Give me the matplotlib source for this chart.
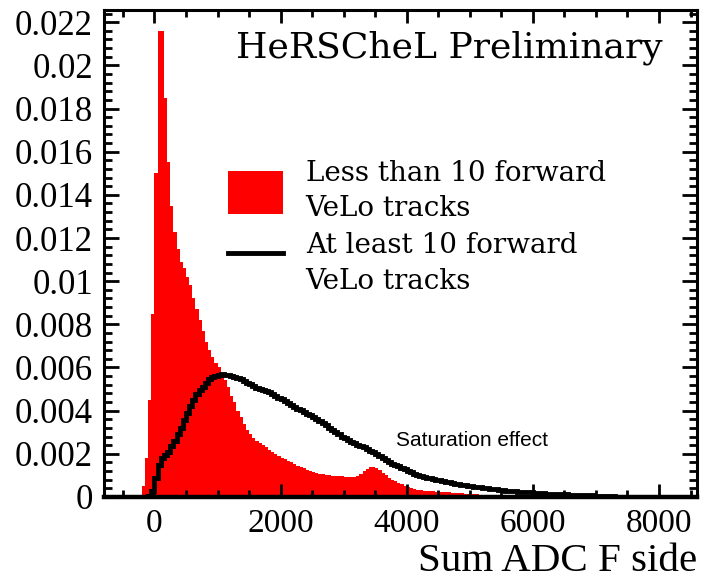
import matplotlib
matplotlib.use('Agg')
import matplotlib.pyplot as plt
from matplotlib.ticker import MultipleLocator, FuncFormatter
import numpy as np

# 50 ADC bins from -500 to 7500; normalised entries in units of 1e-3
edges = np.arange(-500, 7501, 50)

few_tracks = np.array([
    0, 0, 0, 0, 0, 0.1, 0.5, 1.8, 4.5, 8.5,                       # -500
    15.0, 21.6, 21.6, 18.5, 15.5, 13.5, 12.3, 11.5, 10.9, 10.6,   # 0
    10.2, 9.8, 9.2, 8.7, 8.2, 7.7, 7.2, 6.8, 6.5, 6.2,            # 500
    6.0, 5.7, 5.4, 5.1, 4.7, 4.4, 4.0, 3.7, 3.4, 3.1,             # 1000
    2.9, 2.75, 2.6, 2.5, 2.4, 2.3, 2.2, 2.1, 2.0, 1.9,            # 1500
    1.82, 1.75, 1.68, 1.6, 1.52, 1.45, 1.38, 1.32, 1.26, 1.2,     # 2000
    1.15, 1.11, 1.08, 1.05, 1.02, 1.0, 0.98, 0.97, 0.96, 0.95,    # 2500
    0.94, 0.93, 0.93, 0.93, 0.95, 1.05, 1.2, 1.3, 1.38, 1.4,      # 3000
    1.35, 1.25, 1.12, 1.0, 0.9, 0.8, 0.72, 0.65, 0.58, 0.5,       # 3500
    0.44, 0.4, 0.37, 0.34, 0.32, 0.3, 0.29, 0.28, 0.27, 0.25,     # 4000
    0.24, 0.23, 0.22, 0.21, 0.2, 0.19, 0.18, 0.17, 0.16, 0.15,    # 4500
    0.14, 0.13, 0.12, 0.11, 0.1, 0.1, 0.09, 0.08, 0.07, 0.07,     # 5000
    0.06, 0.05, 0.05, 0.04, 0.03, 0.03, 0.02, 0.02, 0.01, 0.01,   # 5500
    0, 0, 0, 0, 0, 0, 0, 0, 0, 0,                                 # 6000
    0, 0, 0, 0, 0, 0, 0, 0, 0, 0,                                 # 6500
    0, 0, 0, 0, 0, 0, 0, 0, 0, 0,                                 # 7000
]) * 1e-3

many_tracks = np.array([
    0, 0, 0, 0, 0, 0, 0, 0, 0.05, 0.3,                            # -500
    0.9, 1.5, 1.8, 1.95, 2.1, 2.35, 2.6, 2.9, 3.2, 3.55,          # 0
    3.9, 4.2, 4.5, 4.75, 4.95, 5.1, 5.3, 5.45, 5.55, 5.6,         # 500
    5.65, 5.68, 5.66, 5.65, 5.62, 5.58, 5.52, 5.45, 5.38, 5.3,    # 1000
    5.22, 5.12, 5.05, 5.0, 4.95, 4.9, 4.85, 4.75, 4.68, 4.6,      # 1500
    4.52, 4.45, 4.35, 4.28, 4.18, 4.1, 4.02, 3.95, 3.86, 3.78,    # 2000
    3.7, 3.6, 3.52, 3.42, 3.32, 3.2, 3.1, 3.0, 2.9, 2.8,          # 2500
    2.72, 2.63, 2.55, 2.48, 2.42, 2.36, 2.3, 2.22, 2.15, 2.08,    # 3000
    2.0, 1.9, 1.8, 1.72, 1.63, 1.55, 1.48, 1.42, 1.36, 1.28,      # 3500
    1.2, 1.14, 1.08, 1.02, 0.97, 0.93, 0.89, 0.86, 0.83, 0.8,     # 4000
    0.77, 0.74, 0.71, 0.68, 0.65, 0.62, 0.6, 0.57, 0.55, 0.53,    # 4500
    0.5, 0.48, 0.46, 0.44, 0.42, 0.4, 0.38, 0.36, 0.35, 0.33,     # 5000
    0.32, 0.3, 0.29, 0.27, 0.26, 0.25, 0.24, 0.23, 0.22, 0.21,    # 5500
    0.2, 0.19, 0.18, 0.17, 0.16, 0.15, 0.15, 0.14, 0.13, 0.12,    # 6000
    0.12, 0.11, 0.1, 0.1, 0.09, 0.08, 0.08, 0.07, 0.07, 0.06,     # 6500
    0.05, 0.05, 0.04, 0.04, 0.03, 0.03, 0.02, 0.02, 0.01, 0.01,   # 7000
]) * 1e-3

few_label = 'Less than 10 forward\nVeLo tracks'
many_label = 'At least 10 forward\nVeLo tracks'

serif = 'Liberation Serif'
slab = 'DejaVu Serif'

fig = plt.figure(figsize=(7.1, 5.81), dpi=100)
ax = fig.add_axes([0.1465, 0.1446, 0.835, 0.838])

ax.hist(edges[:-1], bins=edges, weights=few_tracks, histtype='stepfilled',
        color='#ff0000', linewidth=0, label=few_label)
ax.stairs(many_tracks, edges, color='black', linewidth=3.5, label=many_label)

ax.set_xlim(-800, 8600)
ax.set_ylim(0, 0.02256)

ax.xaxis.set_major_locator(MultipleLocator(2000))
ax.xaxis.set_minor_locator(MultipleLocator(500))
ax.yaxis.set_major_locator(MultipleLocator(0.002))
ax.yaxis.set_minor_locator(MultipleLocator(0.0004))
ax.yaxis.set_major_formatter(FuncFormatter(lambda v, p: '%g' % round(v, 6)))

for s in ax.spines.values():
    s.set_linewidth(2.2)
ax.spines['bottom'].set_linewidth(3.2)

ax.tick_params(which='both', direction='in', top=True, right=True, width=2)
ax.tick_params(axis='x', which='major', length=9.5, pad=8)
ax.tick_params(axis='x', which='minor', length=5)
ax.tick_params(axis='y', which='major', length=10.5, pad=8)
ax.tick_params(axis='y', which='minor', length=5.5)
for lab in ax.get_xticklabels():
    lab.set_fontfamily(serif)
    lab.set_fontsize(24)
for lab in ax.get_yticklabels():
    lab.set_fontfamily(serif)
    lab.set_fontsize(25)

ax.set_xlabel('Sum ADC F side', loc='right', fontfamily=serif, fontsize=29.5, labelpad=3)

ax.text(0.943, 0.922, 'HeRSCheL Preliminary', transform=ax.transAxes,
        ha='right', va='center', fontfamily=slab, fontsize=26)
ax.text(3830, 0.00264, 'Saturation effect', ha='left', va='center',
        fontfamily='Liberation Sans', fontsize=15)

leg = ax.legend(loc='upper left', bbox_to_anchor=(0.209, 0.693), frameon=False,
                prop={'family': slab, 'size': 20}, borderpad=0, borderaxespad=0,
                handlelength=2.0, handleheight=2.0, handletextpad=0.8,
                labelspacing=0.35)
for t in leg.get_texts():
    t.set_linespacing(1.42)

fig.savefig('out.png', dpi=100)
